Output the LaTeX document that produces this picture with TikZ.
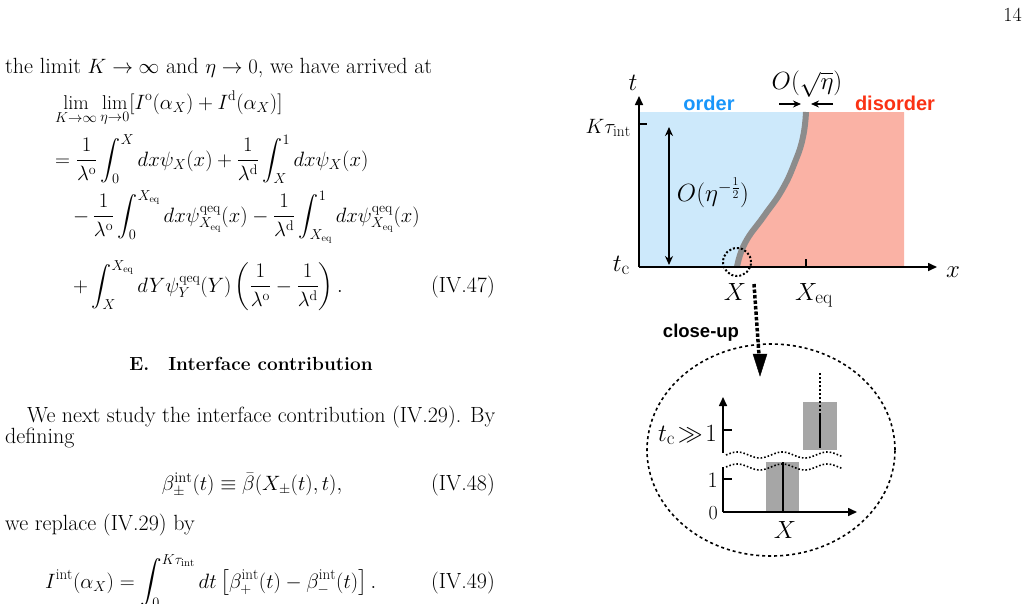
\documentclass[tikz,border=0pt]{standalone}
\usepackage{amsmath,amssymb}
\usepackage{fontspec}
\newfontfamily\hel{Liberation Sans}
\usetikzlibrary{arrows.meta,shapes.geometric}
\definecolor{ordblue}{RGB}{205,233,251}
\definecolor{dispink}{RGB}{250,178,165}
\definecolor{ordtxt}{RGB}{25,150,250}
\definecolor{distxt}{RGB}{250,50,20}
\tikzset{
 body/.style={inner sep=0pt,font=\fontsize{22}{26}\selectfont},
 eqn/.style={inner sep=0pt,font=\fontsize{20}{23}\selectfont},
 lab/.style={inner sep=0pt,font=\fontsize{27}{30}\selectfont},
 slab/.style={inner sep=0pt,font=\fontsize{22}{24}\selectfont},
 sans/.style={inner sep=0pt,font=\fontsize{20}{22}\selectfont\hel\bfseries},
 ax/.style={line width=1.6pt,-{Triangle[length=9pt,width=8pt]}},
}
\begin{document}
\begin{tikzpicture}[x=1pt,y=-1pt]
\useasboundingbox (0,0) rectangle (1028,603);
\clip (0,0) rectangle (1028,603);
% page number
\node[body,anchor=base east,font=\fontsize{20}{22}\selectfont] (pg) at (1022,21) {14};
% left column text
\node[body,anchor=base west] (l1) at (5,73) {the limit $K\to\infty$ and $\eta\to0$, we have arrived at};
\node[eqn,anchor=base west] (e1) at (55,109) {$\displaystyle\lim_{K\to\infty}\lim_{\eta\to0}[I^{\mathrm{o}}(\alpha_X)+I^{\mathrm{d}}(\alpha_X)]$};
\node[eqn,anchor=base west] (e2) at (55,166) {$\displaystyle=\frac{1}{\lambda^{\mathrm{o}}}\int_0^X dx\psi_X(x)+\frac{1}{\lambda^{\mathrm{d}}}\int_X^1 dx\psi_X(x)$};
\node[eqn,anchor=base west] (e3) at (73,222) {$\displaystyle-\,\frac{1}{\lambda^{\mathrm{o}}}\int_0^{X_{\mathrm{eq}}} dx\psi^{\mathrm{qeq}}_{X_{\mathrm{eq}}}(x)-\frac{1}{\lambda^{\mathrm{d}}}\int_{X_{\mathrm{eq}}}^1 dx\psi^{\mathrm{qeq}}_{X_{\mathrm{eq}}}(x)$};
\node[eqn,anchor=base west] (e4) at (73,292) {$\displaystyle+\int_X^{X_{\mathrm{eq}}} dY\psi^{\mathrm{qeq}}_{Y}(Y)\left(\frac{1}{\lambda^{\mathrm{o}}}-\frac{1}{\lambda^{\mathrm{d}}}\right).$};
\node[body,anchor=base east] (n47) at (495,292) {(IV.47)};
\node[body,anchor=base,font=\fontsize{19}{22}\selectfont] (sec) at (251,370) {\bfseries E.\quad Interface contribution};
\node[body,anchor=base west,text width=468pt,align=justify] (p1) at (27,422) {We next study the interface contribution (IV.29). By};
\node[body,anchor=base west] (p2) at (5,443) {defining};
\node[eqn,anchor=base,font=\fontsize{21}{24}\selectfont] (e48) at (252,490) {$\beta^{\mathrm{int}}_{\pm}(t)\equiv\bar\beta(X_{\pm}(t),t),$};
\node[body,anchor=base east] (n48) at (495,490) {(IV.48)};
\node[body,anchor=base west] (p3) at (5,530) {we replace (IV.29) by};
\node[eqn,anchor=base west,font=\fontsize{21.5}{24}\selectfont] (e49) at (45,588) {$\displaystyle I^{\mathrm{int}}(\alpha_X)=\int_0^{K\tau_{\mathrm{int}}}dt\left[\beta^{\mathrm{int}}_{+}(t)-\beta^{\mathrm{int}}_{-}(t)\right].$};
\node[body,anchor=base east] (n49) at (495,588) {(IV.49)};
% ---- figure: main panel
\fill[ordblue] (639,112) rectangle (904,267);
\fill[dispink] plot[smooth,tension=0.8] coordinates {(737,267) (745,243) (764,216) (782,190) (795,162) (803,137) (806,112)} -- (904,112) -- (904,267) -- cycle;
\draw[line width=6pt,black!45] plot[smooth,tension=0.8] coordinates {(737,267) (745,243) (764,216) (782,190) (795,162) (803,137) (806,112)};
\coordinate (O) at (639,267);
\coordinate (tt) at (639,96);
\coordinate (xt) at (937,267);
\draw[ax] (O) -- (tt);
\draw[ax] (O) -- (xt);
\draw[line width=1.4pt] (639,124) -- (647,124);
\draw[line width=1.4pt] (806,259) -- (806,267);
\node[lab,anchor=base,font=\fontsize{31}{32}\selectfont] (tl) at (633,90) {$t$};
\node[lab,anchor=base west,font=\fontsize{31}{32}\selectfont] (xl) at (946,277) {$x$};
\node[slab,anchor=base east] (kt) at (631,133) {$K\tau_{\mathrm{int}}$};
\node[lab,anchor=base east] (tc) at (630,271) {$t_{\mathrm{c}}$};
\node[lab,anchor=base] (Xl) at (735,300) {$X$};
\node[lab,anchor=base] (Xeq) at (814,300) {$X_{\mathrm{eq}}$};
\coordinate (da) at (669,127);
\coordinate (db) at (669,265);
\draw[line width=1.5pt,{Stealth[length=9pt,width=8pt]}-{Stealth[length=9pt,width=8pt]}] (da) -- (db);
\node[slab,font=\fontsize{24}{26}\selectfont] (Oe) at (713,193) {$O(\eta^{-\frac{1}{2}})$};
\node[sans,text=ordtxt] (ord) at (709,103) {order};
\node[sans,text=distxt] (dis) at (895,103) {disorder};
\node[slab,font=\fontsize{23}{24}\selectfont] (Os) at (807,84) {$O(\sqrt{\eta})$};
\coordinate (a1) at (779,104); \coordinate (a2) at (801,104);
\coordinate (b1) at (833,104); \coordinate (b2) at (811,104);
\draw[line width=1.5pt,-{Stealth[length=8pt,width=7pt]}] (a1) -- (a2);
\draw[line width=1.5pt,-{Stealth[length=8pt,width=7pt]}] (b1) -- (b2);
% close-up circle and pointer
\node[circle,draw,line width=2pt,dotted,minimum size=28pt,inner sep=0pt] (cc) at (737,262) {};
\coordinate (pt) at (760,376);
\draw[line width=3.5pt,dotted] (754,284) -- (759,355);
\draw[fill=black] (753,354) -- (767,354) -- (760,376) -- cycle;
\node[sans,font=\fontsize{18.5}{20}\selectfont\hel\bfseries] (cu) at (701,333) {close-up};
\node[ellipse,draw,dashed,line width=1.6pt,minimum width=248pt,minimum height=212pt] (el) at (771,450) {};
% inner axes
\fill[black!35] (766,462) rectangle (799,512);
\fill[black!35] (803,402) rectangle (837,450);
\draw[line width=2pt] (783,462) -- (783,512);
\draw[line width=2pt] (820,413) -- (820,448);
\draw[line width=2pt,dotted] (820,373) -- (820,413);
\coordinate (o2) at (723,512);
\coordinate (yt2) at (723,397);
\coordinate (xt2) at (857,512);
\draw[line width=1.6pt] (o2) -- (723,467);
\draw[ax] (723,453) -- (yt2);
\draw[ax] (o2) -- (xt2);
\draw[line width=1.4pt] (723,479) -- (732,479);
\draw[line width=1.4pt] (723,430) -- (732,430);
\draw[line width=1.6pt,dotted] plot[domain=726:843,samples=80] (\x,{455-3*sin((\x-726)*8)});
\draw[line width=1.6pt,dotted] plot[domain=726:843,samples=80] (\x,{467-3*sin((\x-726)*8)});
\node[body,anchor=base east,font=\fontsize{20}{22}\selectfont] (z0) at (718,519) {0};
\node[body,anchor=base east,font=\fontsize{22}{24}\selectfont] (z1) at (718,487) {1};
\node[lab,anchor=base east] (tcb) at (717,441) {$t_{\mathrm{c}}\!\gg\!1$};
\node[lab,anchor=base] (X2) at (785,538) {$X$};
\end{tikzpicture}
\end{document}
